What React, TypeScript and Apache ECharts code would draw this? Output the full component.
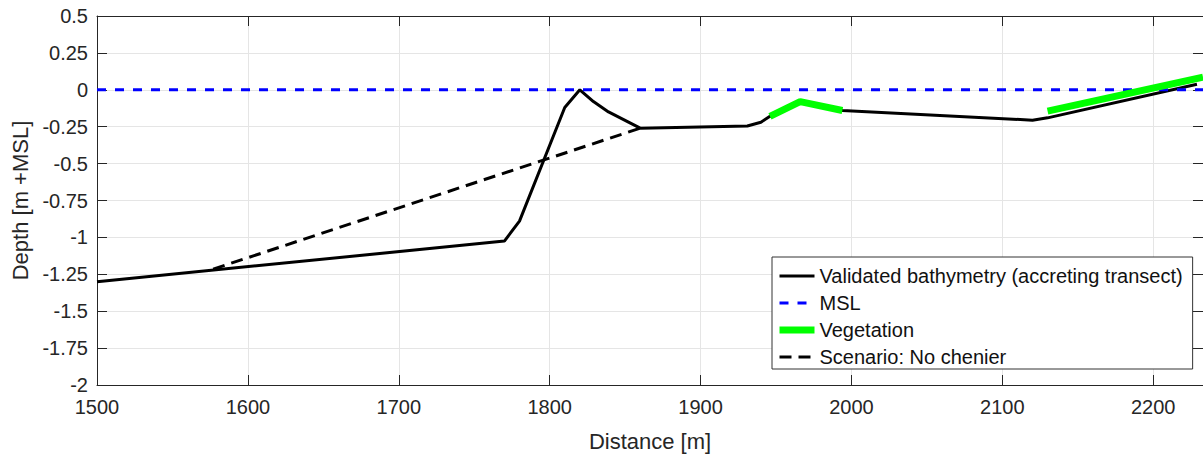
import React, { useEffect, useRef } from "react";
import * as echarts from "echarts";

const X_MIN = 1500;
const X_MAX = 2233;
const Y_MIN = -2;
const Y_MAX = 0.5;

const bathyX = [1500, 1770, 1780, 1810, 1820, 1829, 1839, 1860, 1931, 1940, 1946, 1966, 1994, 2120, 2130, 2229];
const bathyY = [-1.3, -1.025, -0.89, -0.12, 0, -0.08, -0.15, -0.26, -0.245, -0.22, -0.18, -0.08, -0.14, -0.206, -0.19, 0.038];

const mslX = [1500, 2233];
const mslY = [0, 0];

const veg1X = [1946, 1966, 1994];
const veg1Y = [-0.18, -0.08, -0.14];
const veg2X = [2130, 2233];
const veg2Y = [-0.145, 0.085];

const scenX = [1577, 1860];
const scenY = [-1.215, -0.26];

const NAME_BATHY = "Validated bathymetry (accreting transect)";
const NAME_MSL = "MSL";
const NAME_VEG = "Vegetation";
const NAME_SCEN = "Scenario: No chenier";

const zip = (xs: number[], ys: number[]) => xs.map((x, i) => [x, ys[i]]);

const FONT = "'Liberation Sans', Arial, Helvetica, sans-serif";
const AX = "#262626";

export default function App() {
  const ref = useRef<HTMLDivElement>(null);
  useEffect(() => {
    if (!ref.current) return;
    const chart = echarts.init(ref.current, undefined, { renderer: "svg" });
    const tickStyle = { show: true, inside: true, length: 10, lineStyle: { color: AX, width: 1 } };
    chart.setOption({
      animation: false,
      textStyle: { fontFamily: FONT },
      grid: { left: 97, top: 16, width: 1106, height: 369, containLabel: false },
      legend: {
        orient: "vertical",
        left: 772,
        top: 257,
        padding: [9, 10, 2, 4],
        itemWidth: 35,
        itemHeight: 16,
        itemGap: 7,
        backgroundColor: "#ffffff",
        borderColor: "#333333",
        borderWidth: 1,
        itemStyle: { opacity: 0 },
        lineStyle: { width: "inherit", type: "inherit" },
        textStyle: { fontSize: 20, color: "#111", fontFamily: FONT },
        data: [NAME_BATHY, NAME_MSL, NAME_VEG, NAME_SCEN],
      },
      xAxis: [
        {
          type: "value",
          position: "bottom",
          min: X_MIN,
          max: X_MAX,
          interval: 100,
          name: "Distance [m]",
          nameLocation: "middle",
          nameGap: 45,
          nameTextStyle: { fontSize: 22, color: AX, fontFamily: FONT },
          axisLine: { show: true, onZero: false, lineStyle: { color: AX, width: 1 } },
          axisTick: tickStyle,
          axisLabel: {
            fontSize: 20,
            color: AX,
            margin: 12,
            showMaxLabel: false,
            fontFamily: FONT,
            formatter: (v: number) => String(v),
          },
          splitLine: { show: true, lineStyle: { color: "#e5e5e5", width: 1 } },
        },
        {
          type: "value",
          position: "top",
          min: X_MIN,
          max: X_MAX,
          interval: 100,
          axisLine: { show: true, onZero: false, lineStyle: { color: AX, width: 1 } },
          axisTick: tickStyle,
          axisLabel: { show: false },
          splitLine: { show: false },
        },
      ],
      yAxis: [
        {
          type: "value",
          position: "left",
          min: Y_MIN,
          max: Y_MAX,
          interval: 0.25,
          name: "Depth [m +MSL]",
          nameLocation: "middle",
          nameGap: 66,
          nameTextStyle: { fontSize: 22, color: AX, fontFamily: FONT },
          axisLine: { show: true, onZero: false, lineStyle: { color: AX, width: 1 } },
          axisTick: tickStyle,
          axisLabel: { fontSize: 20, color: AX, margin: 9, fontFamily: FONT, formatter: (v: number) => String(v) },
          splitLine: { show: true, lineStyle: { color: "#e5e5e5", width: 1 } },
        },
        {
          type: "value",
          position: "right",
          min: Y_MIN,
          max: Y_MAX,
          interval: 0.25,
          axisLine: { show: true, onZero: false, lineStyle: { color: AX, width: 1 } },
          axisTick: tickStyle,
          axisLabel: { show: false },
          splitLine: { show: false },
        },
      ],
      series: [
        {
          name: NAME_BATHY,
          type: "line",
          data: zip(bathyX, bathyY),
          symbol: "none",
          lineStyle: { color: "#000000", width: 3 },
          itemStyle: { color: "#000000" },
          z: 2,
        },
        {
          name: NAME_MSL,
          type: "line",
          data: zip(mslX, mslY),
          symbol: "none",
          lineStyle: { color: "#0000ff", width: 3, type: [9, 9] },
          itemStyle: { color: "#0000ff" },
          z: 3,
        },
        {
          name: NAME_VEG,
          type: "line",
          data: zip(veg1X, veg1Y),
          symbol: "none",
          lineStyle: { color: "#00ff00", width: 7 },
          itemStyle: { color: "#00ff00" },
          z: 4,
        },
        {
          name: NAME_VEG,
          type: "line",
          data: zip(veg2X, veg2Y),
          symbol: "none",
          lineStyle: { color: "#00ff00", width: 7 },
          itemStyle: { color: "#00ff00" },
          z: 4,
        },
        {
          name: NAME_SCEN,
          type: "line",
          data: zip(scenX, scenY),
          symbol: "none",
          lineStyle: { color: "#000000", width: 3, type: [12, 7] },
          itemStyle: { color: "#000000" },
          z: 5,
        },
      ],
    });
    return () => chart.dispose();
  }, []);
  return (
    <div
      ref={ref}
      style={{ position: "fixed", left: 0, top: 0, width: 1203, height: 459, background: "#ffffff" }}
    />
  );
}
